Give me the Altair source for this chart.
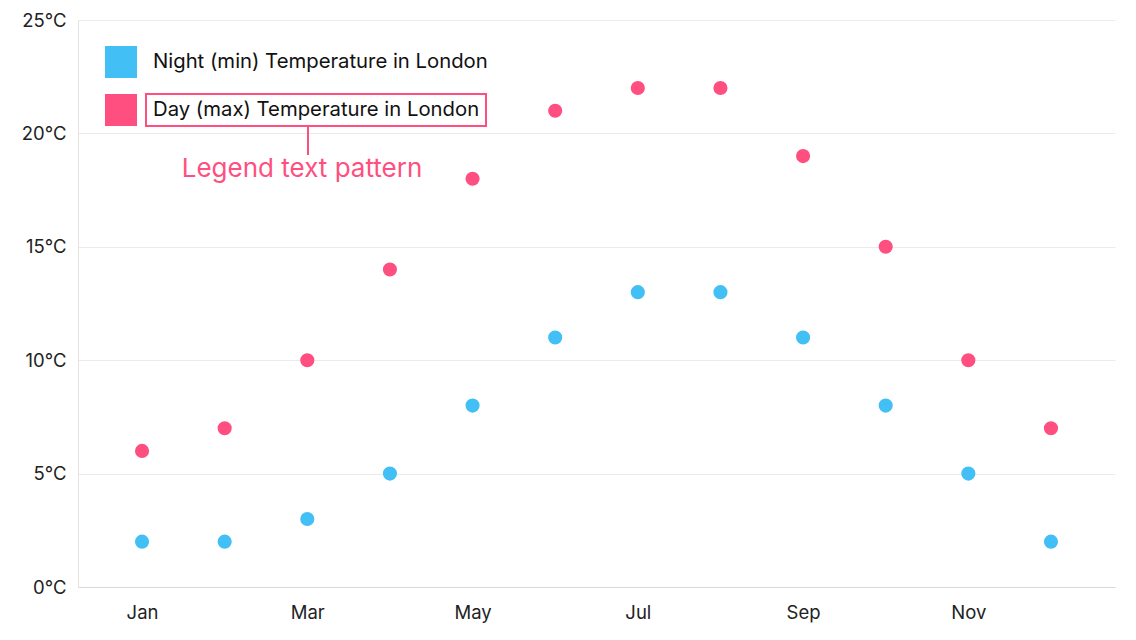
import altair as alt
import pandas as pd

months = ["Jan", "Feb", "Mar", "Apr", "May", "Jun", "Jul", "Aug", "Sep", "Oct", "Nov", "Dec"]
night = [2, 2, 3, 5, 8, 11, 13, 13, 11, 8, 5, 2]
day = [6, 7, 10, 14, 18, 21, 22, 22, 19, 15, 10, 7]
series_names = ["Night (min) Temperature in London", "Day (max) Temperature in London"]
series_colors = ["#42BFF4", "#FF4F80"]
x_labels = ["Jan", "Mar", "May", "Jul", "Sep", "Nov"]
y_ticks = [0, 5, 10, 15, 20, 25]
annotation_text = "Legend text pattern"

rows = []
for m, n, d in zip(months, night, day):
    rows.append({"month": m, "series": series_names[0], "temp": n})
    rows.append({"month": m, "series": series_names[1], "temp": d})
df = pd.DataFrame(rows)

FONT = "Inter"

points = alt.Chart(df).mark_circle(size=200, opacity=1).encode(
    x=alt.X("month:O", sort=months,
            scale=alt.Scale(type="point", padding=0.775),
            axis=alt.Axis(values=x_labels, title=None, labelAngle=0, ticks=False,
                          grid=False, domainColor="#d9d9d9", labelPadding=16,
                          labelFontSize=18.5, labelColor="#222", labelFont=FONT)),
    y=alt.Y("temp:Q", scale=alt.Scale(domain=[0, 25], nice=False),
            axis=alt.Axis(values=y_ticks, title=None, ticks=False, grid=True,
                          gridColor="#ebebeb", domainColor="#e3e3e3",
                          labelExpr="datum.value + '°C'", labelPadding=12,
                          labelFontSize=18.5, labelColor="#222", labelFont=FONT)),
    color=alt.Color("series:N", scale=alt.Scale(domain=series_names, range=series_colors),
                    legend=alt.Legend(title=None, orient="none", legendX=27, legendY=26,
                                      symbolType="square", symbolSize=1024,
                                      symbolStrokeWidth=0, symbolOpacity=1,
                                      labelFontSize=20.3, labelFont=FONT, labelColor="#111",
                                      labelOffset=16, rowPadding=16, padding=0,
                                      labelLimit=600)),
)

one = pd.DataFrame([{"t": annotation_text}])

box = alt.Chart(one).mark_rect(fill=None, stroke="#FF4F80", strokeWidth=2).encode(
    x=alt.value(68), x2=alt.value(408), y=alt.value(74), y2=alt.value(106)
)
connector = alt.Chart(one).mark_rule(stroke="#FF4F80", strokeWidth=2).encode(
    x=alt.value(230), y=alt.value(106), y2=alt.value(135)
)
label = alt.Chart(one).mark_text(font=FONT, fontSize=26, color="#FF4F80",
                                 align="center", baseline="alphabetic").encode(
    x=alt.value(224), y=alt.value(157), text="t:N"
)

chart = alt.layer(points, box, connector, label).properties(
    width=1037, height=567,
    autosize=alt.AutoSizeParams(type="none"),
    padding={"left": 70, "top": 12, "right": 10, "bottom": 45},
).configure_view(stroke=None)

chart.save("out.html", embed_options={"renderer": "svg", "actions": False})
